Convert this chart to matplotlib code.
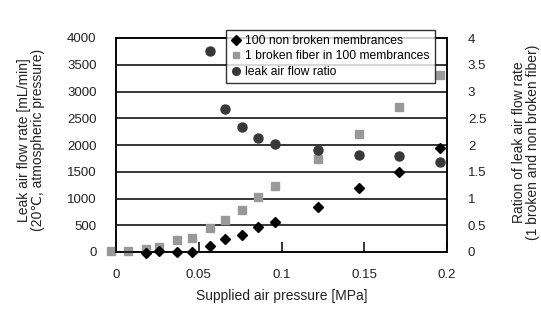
import matplotlib.pyplot as plt

plt.rcParams['font.family'] = ['Liberation Sans', 'DejaVu Sans']

# supplied air pressure [MPa]
pressure = [-0.003, 0.007, 0.018, 0.026, 0.037, 0.046, 0.057, 0.066,
            0.076, 0.086, 0.096, 0.122, 0.147, 0.171, 0.196]
# leak air flow [mL/min]
broken = [12, 12, 60, 100, 215, 260, 456, 606, 794, 1031, 1231,
          1731, 2206, 2706, 3312]
non_broken = [-25, 10, 0, 5, 120, 240, 310, 470, 560, 845, 1190, 1500, 1940]
# ratio (starts at 7th pressure point)
ratio = [3.75, 2.67, 2.33, 2.14, 2.02, 1.91, 1.81, 1.79, 1.675]

xticks = [0, 0.05, 0.1, 0.15, 0.2]
xticklabels = ['0', '0.05', '0.1', '0.15', '0.2']

txt = '#222222'

fig = plt.figure(figsize=(5.41, 3.22), dpi=100)
ax = fig.add_axes([116 / 541, 1 - 252 / 322, 331 / 541, 214 / 322])
ax2 = ax.twinx()

ax.set_xlim(0, 0.2)
ax.set_ylim(0, 4000)
ax2.set_ylim(0, 4)

for y in range(500, 4000, 500):
    ax.axhline(y, color='black', lw=1.1, zorder=1)

h1, = ax.plot(pressure[2:], non_broken, ls='none', marker='D', ms=5.5,
              color='black', clip_on=False, zorder=4,
              label='100 non broken membrances')
h2, = ax.plot(pressure, broken, ls='none', marker='s', ms=5.5,
              color='#999999', clip_on=False, zorder=3,
              label='1 broken fiber in 100 membrances')
h3, = ax2.plot(pressure[6:], ratio, ls='none', marker='o', ms=6.5,
               color='#383838', clip_on=False, zorder=3,
               label='leak air flow ratio')

for a in (ax, ax2):
    for s in a.spines.values():
        s.set_color('black')
        s.set_linewidth(1.1)

ax.set_xticks(xticks)
ax.set_xticklabels(xticklabels)
ax.tick_params(axis='x', direction='in', length=7, width=1.1, pad=12,
               labelsize=9.5, labelcolor=txt)
ax.set_yticks(range(0, 4001, 500))
ax.tick_params(axis='y', length=0, pad=14, labelsize=9.5, labelcolor=txt)
ax2.set_yticks([0, 0.5, 1, 1.5, 2, 2.5, 3, 3.5, 4])
ax2.set_yticklabels(['0', '0.5', '1', '1.5', '2', '2.5', '3', '3.5', '4'])
ax2.tick_params(axis='y', length=0, pad=15, labelsize=9.5, labelcolor=txt)

fig.text(0.5 * (116 + 447) / 541, 1 - 296 / 322, 'Supplied air pressure [MPa]',
         ha='center', va='center', fontsize=10, color=txt)
fig.text(31 / 541, 1 - 140 / 322,
         'Leak air flow rate [mL/min]\n(20\u2103, atmospheric pressure)',
         rotation=90, ha='center', va='center', fontsize=10, color=txt,
         linespacing=0.95)
fig.text(526 / 541, 1 - 142 / 322,
         'Ration of leak air flow rate\n(1 broken and non broken fiber)',
         rotation=90, ha='center', va='center', fontsize=10, color=txt,
         linespacing=0.95)

leg = fig.legend(handles=[h1, h2, h3], loc='upper left',
                 bbox_to_anchor=(226 / 541, 1 - 30 / 322), borderaxespad=0,
                 fontsize=8.7, frameon=True, fancybox=False,
                 handlelength=0.8, handletextpad=0.4, borderpad=0.4,
                 labelspacing=0.3, markerscale=0.85)
leg.get_frame().set_edgecolor('black')
leg.get_frame().set_linewidth(1.0)
leg.set_zorder(10)

fig.savefig('out.png', dpi=100)
